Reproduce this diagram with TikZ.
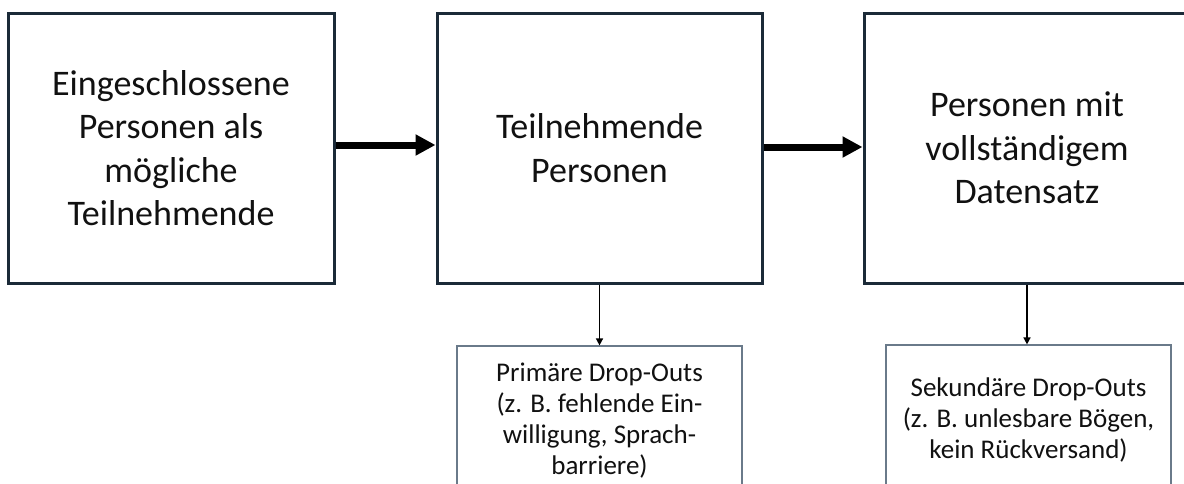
\documentclass[tikz,border=0pt]{standalone}
\usepackage{fontspec}
\setmainfont{Carlito}
\usetikzlibrary{arrows.meta}
\definecolor{boxline}{HTML}{1B2A38}
\definecolor{thinline}{HTML}{6A7A8A}
\definecolor{txt}{HTML}{111111}
\tikzset{
  bigbox/.style={draw=boxline, line width=3pt, fill=white, rectangle,
    minimum width=#1, minimum height=270pt, inner sep=0pt, align=center,
    text=txt, font=\fontsize{36}{43.5}\selectfont},
  dropbox/.style={draw=thinline, line width=1.2pt, fill=white, rectangle,
    minimum width=285pt, inner sep=0pt, align=center,
    text=txt, font=\fontsize{27}{31}\selectfont},
  bigarrow/.style={line width=7pt, draw=black, -{Triangle[length=20pt,width=20pt]}},
  smallarrow/.style={line width=1.5pt, draw=black, -{Triangle[length=7pt,width=7pt]}}
}
\begin{document}
\begin{tikzpicture}[x=1pt,y=-1pt]
\clip (0,0) rectangle (1184,483);
\fill[white] (0,0) rectangle (1184,483);
\node[bigbox=326pt] (b1) at (171,148) {Eingeschlossene\\Personen als\\mögliche\\Teilnehmende};
\node[bigbox=325pt] (b2) at (599.5,148) {Teilnehmende\\Personen};
\node[bigbox=326pt] (b3) at (1027,148) {Personen mit\\vollständigem\\Datensatz};
\node[dropbox, minimum height=150pt] (d1) at (599.5,421) {Primäre Drop-Outs\\(z. B. fehlende Ein-\\willigung, Sprach-\\barriere)};
\node[dropbox, minimum height=150pt] (d2) at (1028.5,420) {Sekundäre Drop-Outs\\(z. B. unlesbare Bögen,\\kein Rückversand)};
\draw[bigarrow] ([yshift=3pt]b1.east) -- ([yshift=3pt]b2.west);
\draw[bigarrow] ([yshift=1pt]b2.east) -- ([yshift=1pt]b3.west);
\draw[smallarrow] (b2.south) -- (b2.south |- d1.north);
\draw[smallarrow] (b3.south) -- (b3.south |- d2.north);
\end{tikzpicture}
\end{document}
